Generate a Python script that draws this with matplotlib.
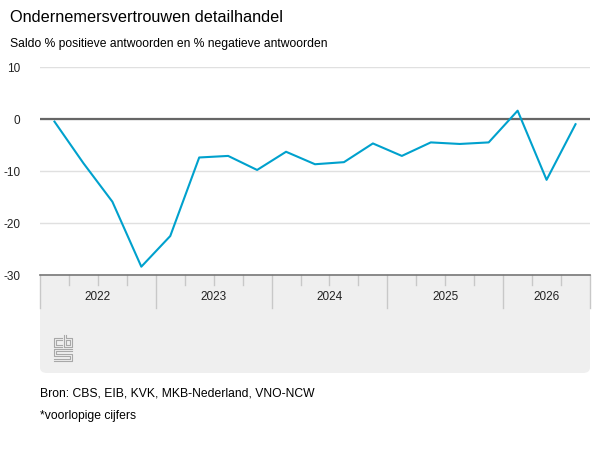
import matplotlib
matplotlib.use("Agg")
import matplotlib.pyplot as plt
from matplotlib.patches import FancyBboxPatch, Rectangle
from matplotlib.lines import Line2D

years = ["2022", "2023", "2024", "2025", "2026"]
quarters_per_year = [4, 4, 4, 4, 3]
saldo = [-0.5, -8.5, -15.9, -28.4,
         -22.5, -7.4, -7.1, -9.8,
         -6.3, -8.7, -8.3, -4.7,
         -7.1, -4.5, -4.8, -4.5,
         1.6, -11.7, -1.0]

W, H = 600, 450
plt.rcParams['font.family'] = ['Liberation Sans', 'DejaVu Sans']
fig = plt.figure(figsize=(6, 4.5), dpi=100)


def fx(px):
    return px / W


def fy(py):
    return 1 - py / H


# grey panel under the chart
panel = FancyBboxPatch((fx(40), fy(373)), fx(550), (373 - 275) / H,
                       boxstyle="round,pad=0,rounding_size=0.012",
                       transform=fig.transFigure, facecolor="#efefef",
                       edgecolor="none", zorder=-2)
fig.patches.append(panel)
fig.patches.append(Rectangle((fx(40), fy(300)), fx(550), 25 / H,
                             transform=fig.transFigure, facecolor="#efefef",
                             edgecolor="none", zorder=-2))

ax = fig.add_axes([fx(40), fy(275), fx(550), (275 - 67) / H])
x = list(range(len(saldo)))
ax.plot(x, saldo, color="#00a1cd", lw=1.5, zorder=3)
ax.axhline(0, color="#666666", lw=1.6, zorder=2)
ax.set_xlim(-0.5, len(saldo) - 0.5)
ax.set_ylim(-30, 10)
ax.set_yticks([10, 0, -10, -20, -30])
ax.set_yticklabels(["10", "0", "-10", "-20", "-30"])
ax.yaxis.grid(True, color="#e0e0e0", lw=1)
ax.set_axisbelow(True)
for s in ["top", "right", "left"]:
    ax.spines[s].set_visible(False)
ax.spines["bottom"].set_color("#777777")
ax.spines["bottom"].set_linewidth(1.2)
ax.tick_params(axis="y", length=0, labelsize=8.5, pad=14, colors="#222222")
ax.tick_params(axis="x", length=0, labelbottom=False)
ax.set_facecolor("none")

# year bands and quarter ticks
trans = ax.get_xaxis_transform()
band = 33 / 208
qtick = 10 / 208
start = -0.5
for yr, n in zip(years, quarters_per_year):
    ax.add_line(Line2D([start, start], [0, -band], transform=trans,
                       color="#c8c8c8", lw=1, clip_on=False))
    for q in range(1, n):
        ax.add_line(Line2D([start + q, start + q], [0, -qtick], transform=trans,
                           color="#c8c8c8", lw=1, clip_on=False))
    ax.text(start + n / 2, -22 / 208, yr, transform=trans, ha="center",
            va="center", fontsize=8.5, color="#222222", clip_on=False)
    start += n
ax.add_line(Line2D([start, start], [0, -band], transform=trans,
                   color="#c8c8c8", lw=1, clip_on=False))

# cbs logo
logo = "#a8a8a8"
segs = [
    [(62, 338), (54, 338), (54, 347), (62, 347)],
    [(62, 340), (56, 340), (56, 345), (62, 345)],
    [(64, 335), (64, 347), (72, 347), (72, 338), (66, 338), (66, 335)],
    [(66, 340), (70, 340), (70, 345), (66, 345), (66, 340)],
    [(72, 349), (54, 349), (54, 356), (70, 356), (70, 359), (54, 359)],
    [(72, 351), (56, 351), (56, 354), (72, 354), (72, 361), (54, 361)],
]
for seg in segs:
    fig.add_artist(Line2D([fx(p[0]) for p in seg], [fy(p[1]) for p in seg],
                          transform=fig.transFigure, color=logo, lw=0.8))

fig.text(fx(10), fy(17), "Ondernemersvertrouwen detailhandel", fontsize=11.7,
         va="center", ha="left", color="#000000")
fig.text(fx(10), fy(44), "Saldo % positieve antwoorden en % negatieve antwoorden",
         fontsize=8.7, va="center", ha="left", color="#000000")
fig.text(fx(40), fy(394), "Bron: CBS, EIB, KVK, MKB-Nederland, VNO-NCW",
         fontsize=8.7, va="center", ha="left", color="#000000")
fig.text(fx(40), fy(416), "*voorlopige cijfers", fontsize=8.7, va="center",
         ha="left", color="#000000")

fig.savefig("out.png", dpi=100, facecolor="white")
